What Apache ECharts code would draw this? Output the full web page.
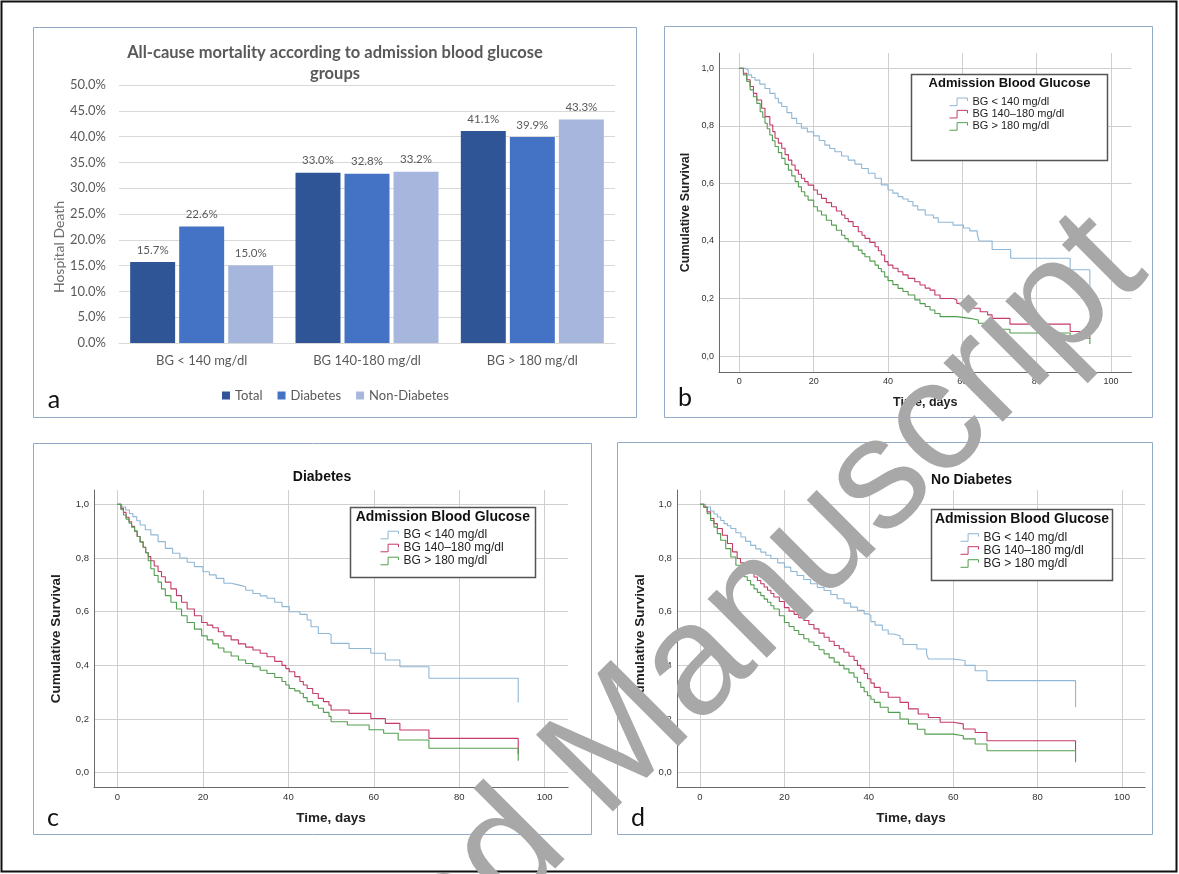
<!DOCTYPE html>
<html><head><meta charset="utf-8">
<script src="https://cdn.jsdelivr.net/npm/echarts@6/dist/echarts.min.js"></script>
<style>html,body{margin:0;padding:0;background:#fff}#c{width:1179px;height:874px}</style>
</head><body><div id="c"></div>
<script>
// ---------- Panel a: bar chart data ----------
const barCategories = ['BG < 140 mg/dl', 'BG 140-180 mg/dl', 'BG > 180 mg/dl'];
const totalDeath = [15.7, 33.0, 41.1];
const diabetesDeath = [22.6, 32.8, 39.9];
const nonDiabetesDeath = [15.0, 33.2, 43.3];

// ---------- KM panels: shared ticks / names ----------
const groupNames = ['BG < 140 mg/dl', 'BG 140–180 mg/dl', 'BG > 180 mg/dl'];
const dayTicks = [0, 20, 40, 60, 80, 100];
const survTicks = [0, 0.2, 0.4, 0.6, 0.8, 1.0];

// ---------- Panel b: all patients [day, cumulative survival] ----------
const allLt140 = [[0,1],[1.5,0.994],[2.4,0.977],[3.3,0.968],[4.2,0.959],[5.5,0.945],[6.9,0.930],[8.2,0.913],[9.6,0.896],[10.5,0.880],[11.4,0.867],[12.8,0.846],[14.1,0.826],[15.4,0.808],[16.7,0.792],[18.3,0.779],[20,0.765],[21.5,0.749],[23,0.733],[24.3,0.721],[25.7,0.710],[27.5,0.695],[29.3,0.681],[31.1,0.667],[32.9,0.652],[34.7,0.635],[36.5,0.618],[38.2,0.595],[40,0.577],[41.3,0.566],[42.7,0.554],[44,0.546],[45.4,0.537],[46.7,0.522],[48,0.508],[50,0.49],[52.2,0.48],[53.5,0.465],[57.5,0.455],[60.3,0.445],[62,0.435],[64,0.425],[64.5,0.40],[68,0.37],[73,0.34],[89,0.30],[94.3,0.24]];
const all140to180 = [[0,1],[1.1,0.983],[2,0.96],[2.9,0.937],[3.8,0.913],[4.7,0.890],[6,0.861],[6.9,0.832],[8.2,0.803],[9,0.78],[9.6,0.757],[10.5,0.74],[11.4,0.722],[12.3,0.70],[13.2,0.681],[14.1,0.664],[15,0.646],[15.9,0.632],[16.7,0.618],[17.6,0.606],[18.5,0.594],[20,0.577],[21,0.562],[22.1,0.548],[23.4,0.533],[24.8,0.519],[26.1,0.504],[27.5,0.490],[28.4,0.478],[29.3,0.467],[30.6,0.450],[32,0.432],[33,0.42],[33.8,0.409],[35.1,0.395],[36.5,0.380],[37.4,0.366],[38.2,0.351],[39.1,0.328],[40,0.316],[41.3,0.305],[42.7,0.293],[44,0.282],[45.4,0.270],[47.2,0.258],[48.6,0.247],[50,0.236],[51.3,0.229],[52.6,0.212],[54,0.20],[57.6,0.195],[58.5,0.183],[62,0.177],[63,0.166],[64.8,0.154],[66.8,0.143],[68,0.131],[72.8,0.111],[89,0.085],[94.3,0.061]];
const allGt180 = [[0,1],[1.1,0.977],[2,0.954],[2.9,0.925],[3.8,0.901],[4.7,0.878],[5.6,0.849],[6.3,0.83],[6.9,0.809],[7.5,0.79],[8.2,0.768],[8.9,0.748],[9.6,0.728],[10.5,0.707],[11.4,0.687],[12.3,0.666],[13.2,0.646],[14.1,0.626],[15,0.606],[15.9,0.588],[16.7,0.571],[17.6,0.556],[18.5,0.542],[20,0.519],[21,0.504],[22.1,0.490],[23.4,0.472],[24.8,0.455],[26.1,0.437],[27.5,0.420],[28.4,0.408],[29.3,0.397],[30.6,0.382],[32,0.368],[33,0.356],[33.8,0.345],[35.1,0.330],[36.5,0.316],[37.4,0.304],[38.2,0.293],[39.1,0.275],[40,0.262],[41.3,0.248],[42.7,0.235],[44,0.224],[45.4,0.212],[47.2,0.195],[48.6,0.182],[50,0.172],[51.3,0.16],[52.6,0.148],[54,0.137],[58.5,0.131],[62,0.125],[64.3,0.114],[66.8,0.102],[68,0.093],[72.8,0.08],[89,0.062],[94.3,0.042]];

// ---------- Panel c: diabetes ----------
const dmLt140 = [[0,1],[1,0.99],[1.9,0.979],[2.8,0.966],[3.6,0.954],[4.5,0.939],[5.3,0.923],[6.5,0.905],[7.8,0.886],[9.5,0.861],[11.2,0.836],[12.9,0.818],[14.6,0.80],[16.3,0.784],[18,0.768],[20,0.749],[21.5,0.737],[23.1,0.724],[24.9,0.706],[26.6,0.70],[28.3,0.693],[30,0.68],[31.7,0.668],[33.4,0.659],[35,0.65],[36.8,0.635],[38.5,0.619],[40.2,0.60],[42.7,0.59],[44.4,0.569],[45.3,0.544],[47,0.519],[49.5,0.513],[50,0.482],[54.2,0.463],[59.3,0.445],[62.7,0.42],[66.1,0.395],[72.9,0.352],[93.8,0.262]];
const dm140to180 = [[0,1],[0.8,0.985],[1.4,0.97],[2,0.952],[2.7,0.935],[3.3,0.918],[4,0.90],[4.6,0.88],[5.3,0.86],[6,0.84],[6.6,0.82],[7.2,0.805],[7.8,0.79],[8.6,0.77],[9.5,0.75],[10.3,0.73],[11.2,0.71],[12.5,0.685],[13.8,0.66],[15,0.635],[16.3,0.61],[18,0.585],[19.7,0.56],[21,0.55],[22.3,0.54],[23.6,0.525],[24.9,0.51],[26.6,0.495],[28.3,0.48],[30,0.468],[31.7,0.457],[33.4,0.445],[35,0.432],[36.8,0.415],[38.5,0.40],[39.4,0.388],[40.2,0.376],[41.5,0.358],[42.7,0.34],[43.5,0.327],[44.4,0.314],[45.7,0.295],[47,0.277],[48.2,0.265],[49.5,0.252],[50,0.234],[54.2,0.221],[59.3,0.202],[62.7,0.184],[66.1,0.159],[72.9,0.128],[93.8,0.07]];
const dmGt180 = [[0,1],[0.8,0.98],[1.4,0.96],[2,0.945],[2.7,0.93],[3.3,0.915],[4,0.90],[4.6,0.88],[5.3,0.86],[6,0.84],[6.6,0.82],[7.2,0.79],[7.8,0.76],[8.6,0.735],[9.5,0.71],[10.3,0.685],[11.2,0.66],[12.5,0.635],[13.8,0.61],[15,0.585],[16.3,0.56],[18,0.535],[19.7,0.51],[21,0.495],[22.3,0.48],[23.6,0.465],[24.9,0.45],[26.6,0.435],[28.3,0.42],[30,0.407],[31.7,0.395],[33.4,0.382],[35,0.37],[36.8,0.355],[38.5,0.34],[39.4,0.327],[40.2,0.314],[41.5,0.305],[42.7,0.296],[43.5,0.28],[44.4,0.265],[45.7,0.252],[47,0.24],[48.2,0.225],[49.5,0.21],[50,0.19],[53.8,0.178],[58.9,0.16],[62.3,0.147],[65.7,0.122],[72.9,0.091],[93.8,0.045]];

// ---------- Panel d: no diabetes ----------
const ndLt140 = [[0,1],[1.3,0.99],[2.5,0.975],[3.3,0.964],[4.1,0.953],[4.9,0.94],[5.7,0.928],[6.5,0.92],[7.3,0.91],[8.5,0.894],[9.7,0.878],[10.8,0.862],[12,0.847],[13.2,0.834],[14.4,0.822],[15.6,0.81],[16.8,0.798],[18.4,0.782],[20,0.766],[21.5,0.75],[23,0.735],[24.6,0.72],[26.2,0.704],[27.8,0.69],[29.4,0.679],[31,0.664],[32.5,0.648],[34.1,0.632],[35.7,0.617],[37.3,0.605],[38.9,0.592],[40,0.586],[40.5,0.563],[41.5,0.55],[43.2,0.532],[44.6,0.517],[45.9,0.51],[47.4,0.499],[48.1,0.478],[51.4,0.461],[53.7,0.443],[54.1,0.424],[60,0.418],[62.8,0.40],[65.2,0.38],[68,0.343],[89,0.244]];
const nd140to180 = [[0,1],[0.9,0.99],[1.7,0.972],[2.5,0.947],[3.3,0.928],[4.1,0.91],[5.3,0.885],[6.5,0.854],[7.7,0.823],[8.8,0.798],[9.6,0.782],[10.4,0.766],[11.6,0.748],[12.8,0.729],[13.6,0.716],[14.4,0.704],[15.2,0.692],[16,0.68],[16.8,0.668],[17.5,0.655],[18.8,0.638],[20,0.615],[21.1,0.602],[22.3,0.59],[23.4,0.578],[24.6,0.567],[25.8,0.552],[27,0.536],[28.2,0.52],[29.4,0.505],[30.6,0.49],[31.8,0.474],[33,0.462],[34.1,0.449],[35.3,0.434],[36.5,0.418],[37.3,0.40],[38.1,0.387],[38.9,0.37],[39.7,0.35],[40.5,0.334],[41.3,0.318],[42.7,0.30],[44.6,0.281],[47.4,0.262],[49.4,0.238],[51.7,0.219],[54.1,0.206],[56.9,0.188],[60,0.182],[62.4,0.163],[65.2,0.15],[68,0.119],[89,0.082]];
const ndGt180 = [[0,1],[0.9,0.988],[1.7,0.965],[2.5,0.94],[3.3,0.915],[4.1,0.891],[4.9,0.866],[6.1,0.835],[7.3,0.804],[8.5,0.773],[9.7,0.748],[10.4,0.73],[11.2,0.716],[12,0.70],[12.8,0.685],[13.6,0.672],[14.4,0.66],[15.2,0.647],[16,0.635],[16.8,0.622],[17.5,0.61],[18.8,0.585],[20,0.56],[21.1,0.545],[22.3,0.53],[23.4,0.515],[24.6,0.499],[25.8,0.487],[27,0.474],[28.2,0.458],[29.4,0.443],[30.6,0.428],[31.8,0.412],[33,0.40],[34.1,0.387],[35.3,0.372],[36.5,0.356],[37.3,0.337],[38.1,0.318],[38.9,0.302],[39.7,0.287],[40.5,0.274],[41.3,0.262],[42.7,0.244],[44.6,0.225],[47.4,0.20],[49.4,0.182],[51.5,0.162],[53.3,0.144],[60,0.138],[62.4,0.126],[65.2,0.107],[68,0.082],[89,0.039]];

// ---------- styling ----------
const OFFICE = 'Lato, "Open Sans", sans-serif';
const SPSS = '"Liberation Sans", Arial, sans-serif';
const barColors = ['#2f5597', '#4472c4', '#a6b6dd'];
const kmColors = ['#8fb7d6', '#c43b66', '#529e4f'];
const boxColor = '#93aac6';

const chart = echarts.init(document.getElementById('c'), null, {renderer: 'canvas'});

// KM panel geometry
const kmPanels = [
  {grid: {left: 718.9, top: 53.05, width: 412.6, height: 318.8}, data: [allLt140, all140to180, allGt180], gapY: 27, tick: 9, name: 12.5},
  {grid: {left: 94.0, top: 490.1, width: 474.2, height: 297.4}, data: [dmLt140, dm140to180, dmGt180], gapY: 31, tick: 9.5, name: 13.5},
  {grid: {left: 676.8, top: 490.1, width: 468.4, height: 297.4}, data: [ndLt140, nd140to180, ndGt180], gapY: 30, tick: 9.5, name: 13.5}
];

const grids = [{left: 119, top: 85, width: 496, height: 258}];
const xAxes = [{
  type: 'category', gridIndex: 0, data: barCategories,
  axisLine: {lineStyle: {color: '#d9d9d9'}}, axisTick: {show: false},
  axisLabel: {color: '#595959', fontSize: 13, fontFamily: OFFICE, margin: 11}
}];
const yAxes = [{
  type: 'value', gridIndex: 0, min: 0, max: 50, interval: 5,
  axisLine: {show: false}, axisTick: {show: false},
  axisLabel: {color: '#595959', fontSize: 13, fontFamily: OFFICE, margin: 13, formatter: v => v.toFixed(1) + '%'},
  splitLine: {lineStyle: {color: '#d9d9d9'}},
  name: 'Hospital Death', nameLocation: 'middle', nameGap: 49,
  nameTextStyle: {color: '#6d6d6d', fontSize: 14, fontFamily: OFFICE, padding: [0, 66, 0, 0]}
}];
const series = [];
const barSeriesData = [totalDeath, diabetesDeath, nonDiabetesDeath];
['Total', 'Diabetes', 'Non-Diabetes'].forEach((nm, i) => {
  series.push({
    type: 'bar', name: nm, xAxisIndex: 0, yAxisIndex: 0, data: barSeriesData[i],
    barGap: '9%', barCategoryGap: '13.5%',
    itemStyle: {color: barColors[i]},
    label: {show: true, position: 'top', distance: 6, color: '#595959', fontSize: 11.5, fontFamily: OFFICE,
      formatter: p => p.value.toFixed(1) + '%'}
  });
});

kmPanels.forEach((p, k) => {
  const gi = k + 1;
  grids.push(p.grid);
  xAxes.push({
    type: 'value', gridIndex: gi, min: -5.5, max: 105.5,
    axisLine: {onZero: false, lineStyle: {color: '#6a6a6a', width: 1}},
    axisTick: {show: false, customValues: dayTicks},
    axisLabel: {customValues: dayTicks, color: '#333', fontSize: p.tick, fontFamily: SPSS, margin: 5},
    splitLine: {show: true, lineStyle: {color: '#cfcfcf', width: 1}},
    name: 'Time, days', nameLocation: 'middle', nameGap: 24,
    nameTextStyle: {color: '#222', fontWeight: 'bold', fontSize: p.name, fontFamily: SPSS}
  });
  yAxes.push({
    type: 'value', gridIndex: gi, min: -0.055, max: 1.053,
    axisLine: {show: true, onZero: false, lineStyle: {color: '#6a6a6a', width: 1}},
    axisTick: {show: false, customValues: survTicks},
    axisLabel: {customValues: survTicks, color: '#333', fontSize: p.tick, fontFamily: SPSS, margin: 5,
      formatter: v => v.toFixed(1).replace('.', ',')},
    splitLine: {show: true, lineStyle: {color: '#cfcfcf', width: 1}},
    name: 'Cumulative Survival', nameLocation: 'middle', nameGap: p.gapY,
    nameTextStyle: {color: '#222', fontWeight: 'bold', fontSize: p.name, fontFamily: SPSS}
  });
  p.data.forEach((d, j) => {
    series.push({
      type: 'line', name: groupNames[j], xAxisIndex: gi, yAxisIndex: gi, data: d,
      step: 'end', showSymbol: false, symbol: 'none', z: 3,
      lineStyle: {color: kmColors[j], width: 1.1}, itemStyle: {color: kmColors[j]}
    });
  });
});

const stepIcon = 'path://M0,9 L8,9 L8,1 L19,1 L19,4';
function kmLegend(left, top, fs, lh) {
  return {
    left, top, orient: 'vertical', itemWidth: 18, itemHeight: 10, itemGap: 0, padding: 0,
    selectedMode: false, z: 10,
    textStyle: {color: '#222', fontSize: fs, lineHeight: lh, fontFamily: SPSS},
    data: groupNames.map((n, j) => ({name: n, icon: stepIcon,
      itemStyle: {color: 'transparent', borderColor: kmColors[j], borderWidth: 1}}))
  };
}

const legends = [
  {left: 222, top: 389, itemWidth: 8, itemHeight: 8, itemGap: 15, icon: 'rect', selectedMode: false, padding: 0,
   textStyle: {color: '#595959', fontSize: 13, fontFamily: OFFICE}, data: ['Total', 'Diabetes', 'Non-Diabetes']},
  kmLegend(949, 95.7, 11, 12.3),
  kmLegend(380, 528.5, 12, 13),
  kmLegend(960, 531, 12, 13)
];

const titles = [
  {text: 'All-cause mortality according to admission blood glucose\ngroups', left: 335, top: 42.5, textAlign: 'center', padding: 0,
   textStyle: {color: '#595959', fontWeight: 'bold', fontSize: 16.5, lineHeight: 21, fontFamily: OFFICE}},
  {text: 'Admission Blood Glucose', left: 1009.5, top: 77, textAlign: 'center', z: 10, padding: 0,
   textStyle: {color: '#111', fontWeight: 'bold', fontSize: 13, fontFamily: SPSS}},
  {text: 'Diabetes', left: 322, top: 470, textAlign: 'center', padding: 0,
   textStyle: {color: '#111', fontWeight: 'bold', fontSize: 14, fontFamily: SPSS}},
  {text: 'Admission Blood Glucose', left: 442.8, top: 510, textAlign: 'center', z: 10, padding: 0,
   textStyle: {color: '#111', fontWeight: 'bold', fontSize: 14, fontFamily: SPSS}},
  {text: 'No Diabetes', left: 971.5, top: 473, textAlign: 'center', padding: 0,
   textStyle: {color: '#111', fontWeight: 'bold', fontSize: 14, fontFamily: SPSS}},
  {text: 'Admission Blood Glucose', left: 1022, top: 512.5, textAlign: 'center', z: 10, padding: 0,
   textStyle: {color: '#111', fontWeight: 'bold', fontSize: 14, fontFamily: SPSS}}
];

function box(x, y, w, h, color, lw, fill, z) {
  return {type: 'rect', shape: {x, y, width: w, height: h}, z: z || 0, silent: true,
    style: {fill: fill || 'none', stroke: color, lineWidth: lw}};
}
function letter(t, x, y) {
  return {type: 'text', x, y, z: 20, silent: true,
    style: {text: t, font: '25px Lato, sans-serif', fill: '#111', textAlign: 'center', textVerticalAlign: 'middle'}};
}
const WM_FONT = '158px "Liberation Sans", Arial, sans-serif';
const WM_ROT = 45 * Math.PI / 180;

const graphics = [
  box(1.5, 1.5, 1175, 870, '#111', 2),
  box(33.5, 27.5, 603, 390, boxColor, 1),
  box(664.5, 26.5, 488, 391, boxColor, 1),
  box(33.5, 443.5, 558, 391, boxColor, 1),
  box(617.5, 442.5, 535, 392, boxColor, 1),
  box(911.5, 74.5, 196, 86, '#555', 1.5, '#fff', 5),
  box(350.5, 507.5, 185, 70, '#555', 1.5, '#fff', 5),
  box(931.5, 509.5, 181, 71, '#555', 1.5, '#fff', 5),
  letter('a', 54, 400), letter('b', 685, 398), letter('c', 53, 818), letter('d', 638, 818),
  {type: 'text', x: 573, y: 790, rotation: WM_ROT, z: 100, silent: true,
   style: {text: 'Manuscript', font: WM_FONT, fill: '#a8a8a8', textAlign: 'left', textVerticalAlign: 'middle'}},
  {type: 'text', x: 541, y: 821, rotation: WM_ROT, z: 100, silent: true,
   style: {text: 'Accepted', font: WM_FONT, fill: '#a8a8a8', textAlign: 'right', textVerticalAlign: 'middle'}}
];

chart.setOption({
  animation: false,
  backgroundColor: '#fff',
  title: titles,
  legend: legends,
  grid: grids,
  xAxis: xAxes,
  yAxis: yAxes,
  series: series,
  graphic: graphics
});
</script></body></html>
